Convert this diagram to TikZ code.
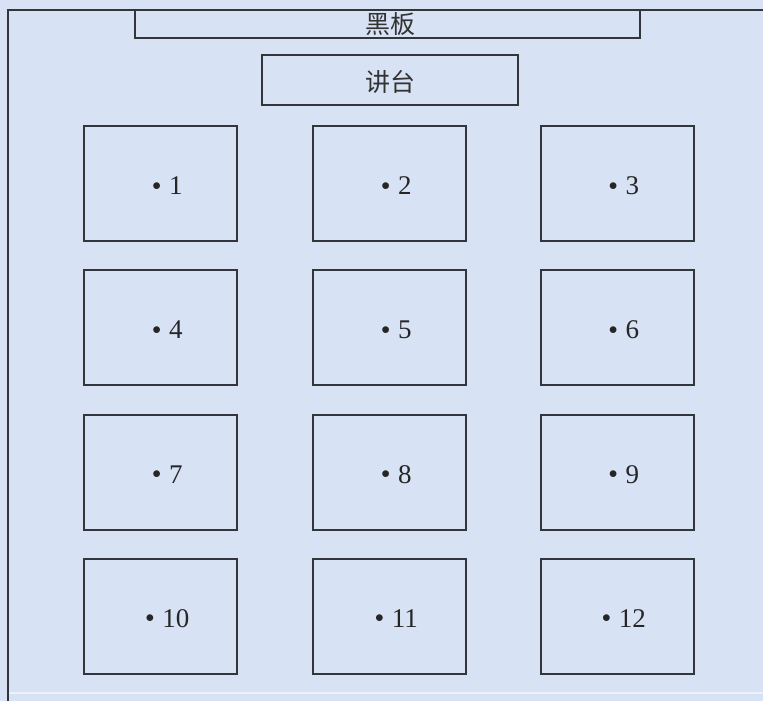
\documentclass[tikz,border=0pt]{standalone}
\usepackage{fontspec}
\usepackage{graphicx}
\newfontfamily\cjk{Noto Sans CJK SC}
\newfontfamily\numfont{Liberation Serif}
\definecolor{bgblue}{RGB}{215,226,245}
\definecolor{edge}{RGB}{50,53,58}
\definecolor{faint}{RGB}{236,241,250}
\tikzset{
  desk/.style={draw=edge, line width=2pt, minimum width=153pt, minimum height=115pt, inner sep=0pt},
  plainbox/.style={draw=edge, line width=2pt, inner sep=0pt},
  seatlabel/.style={font=\numfont\fontsize{27}{30}\selectfont, text=black!85, inner sep=0pt},
  cjklabel/.style={font=\cjk\fontsize{25}{28}\selectfont, text=black!80, inner sep=0pt},
  frame/.style={draw=edge, line width=2pt}
}
\newcommand{\seatdot}{\raisebox{4.5pt}{\scalebox{0.7}{$\bullet$}}\hspace{8pt}}
\begin{document}
\begin{tikzpicture}[x=1pt,y=-1pt]
\fill[bgblue] (0,0) rectangle (763,701);
\useasboundingbox (0,0) rectangle (763,701);
% outer frame
\coordinate (ftr) at (763,10);
\coordinate (ftl) at (8,10);
\coordinate (fbl) at (8,701);
\draw[frame] (ftr) -- (ftl) -- (fbl);
\coordinate (bl) at (9,693);
\coordinate (br) at (763,693);
\draw[faint, line width=1.5pt] (bl) -- (br);
% blackboard
\node[plainbox, fill=bgblue, minimum width=505pt, minimum height=28pt] (board) at (387.5,24) {};
\node[cjklabel] (boardtxt) at (390,24) {黑板};
% podium
\node[plainbox, minimum width=256pt, minimum height=50pt] (podium) at (390,80) {};
\node[cjklabel] (podiumtxt) at (390,82) {讲台};
% desks
\foreach \n/\cx/\cy in {1/160.5/183.5, 2/389.5/183.5, 3/617/183.5,
                        4/160.5/327.5, 5/389.5/327.5, 6/617/327.5,
                        7/160.5/472, 8/389.5/472, 9/617/472,
                        10/160.5/616, 11/389.5/616, 12/617/616}{
  \node[desk] (d\n) at (\cx,\cy) {};
  \node[seatlabel] (l\n) at ([xshift=7pt,yshift=-2.5pt]d\n.center) {\seatdot\n};
}
\end{tikzpicture}
\end{document}
